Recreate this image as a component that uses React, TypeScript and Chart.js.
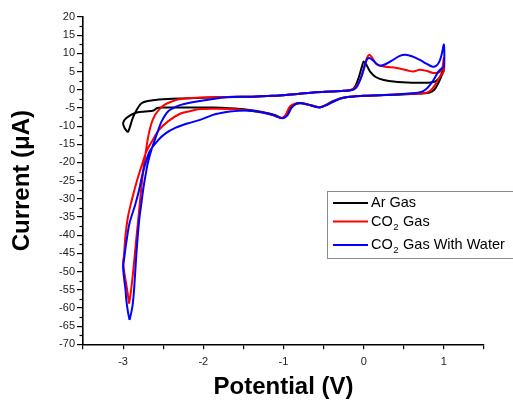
import React, { useEffect, useRef } from 'react';
import { Chart, registerables } from 'chart.js';

Chart.register(...registerables);

// ---- Data (Potential in V, Current in µA) ----
const arV = [-2.94, -2.92, -2.88, -2.83, -2.77, -2.69, -2.55, -2.3, -2.0, -1.7, -1.4, -1.2, -1.0, -0.8, -0.6, -0.4, -0.25, -0.15, -0.1, -0.06, -0.02, 0.0, 0.03, 0.08, 0.15, 0.25, 0.4, 0.55, 0.7, 0.83, 0.9, 0.95, 0.98, 1.0, 1.0, 0.97, 0.93, 0.88, 0.82, 0.75, 0.6, 0.4, 0.2, 0.0, -0.1, -0.2, -0.3, -0.4, -0.47, -0.54, -0.6, -0.69, -0.78, -0.84, -0.92, -0.98, -1.02, -1.1, -1.25, -1.45, -1.67, -1.88, -2.1, -2.35, -2.52, -2.58, -2.62, -2.73, -2.85, -2.96, -3.0, -2.98, -2.94];
const arI = [-11.7, -10.6, -7.8, -5.5, -3.7, -3.1, -2.7, -2.4, -2.2, -2.0, -1.9, -1.7, -1.5, -1.1, -0.7, -0.5, -0.3, 0.0, 1.2, 3.5, 6.5, 7.8, 7.0, 5.0, 3.5, 2.7, 2.2, 2.0, 1.9, 2.0, 2.4, 3.5, 5.0, 7.3, 5.5, 3.8, 1.8, 0.0, -0.8, -1.0, -1.2, -1.4, -1.5, -1.65, -1.8, -2.0, -2.5, -3.3, -4.2, -4.8, -4.6, -4.1, -3.7, -3.9, -5.0, -7.3, -7.8, -7.0, -6.2, -5.5, -5.1, -4.9, -4.9, -4.9, -4.9, -5.1, -5.7, -6.0, -6.4, -7.8, -9.2, -10.6, -11.7];

const co2V = [-2.925, -2.9, -2.87, -2.84, -2.81, -2.78, -2.75, -2.72, -2.69, -2.65, -2.6, -2.54, -2.48, -2.4, -2.3, -2.15, -2.0, -1.7, -1.4, -1.2, -1.0, -0.8, -0.6, -0.4, -0.25, -0.15, -0.1, -0.05, 0.0, 0.04, 0.07, 0.1, 0.16, 0.25, 0.41, 0.55, 0.62, 0.7, 0.78, 0.87, 0.95, 0.98, 1.0, 1.0, 0.97, 0.93, 0.88, 0.83, 0.77, 0.6, 0.4, 0.2, 0.0, -0.1, -0.2, -0.29, -0.38, -0.46, -0.54, -0.62, -0.69, -0.77, -0.84, -0.92, -0.97, -1.02, -1.1, -1.25, -1.45, -1.67, -1.85, -2.04, -2.17, -2.29, -2.44, -2.55, -2.63, -2.71, -2.77, -2.82, -2.87, -2.91, -2.94, -2.97, -2.99, -3.0, -2.98, -2.96, -2.94, -2.925];
const co2I = [-58.8, -55, -49, -42, -35.5, -28.5, -22.5, -17.5, -13.3, -9.5, -6.9, -5.2, -4.1, -3.3, -2.6, -2.3, -2.15, -2.0, -1.9, -1.7, -1.5, -1.1, -0.7, -0.5, -0.3, 0.0, 0.8, 2.5, 5.5, 8.7, 9.6, 9.0, 7.0, 6.4, 6.0, 5.3, 5.0, 5.5, 5.2, 4.6, 4.9, 6.0, 8.7, 5.2, 4.2, 2.8, 1.0, -0.3, -0.9, -1.1, -1.3, -1.5, -1.65, -1.8, -2.0, -2.3, -3.2, -4.1, -4.8, -4.5, -4.1, -3.7, -3.7, -4.6, -6.8, -7.8, -7.2, -6.3, -5.7, -5.3, -5.2, -5.3, -5.9, -6.6, -8.7, -11, -13.8, -17, -21, -24.5, -28.5, -32, -35, -40, -45.9, -47.3, -51, -53.5, -56.5, -58.8];

const waterV = [-2.92, -2.9, -2.88, -2.86, -2.84, -2.82, -2.8, -2.775, -2.75, -2.72, -2.69, -2.64, -2.6, -2.56, -2.52, -2.44, -2.35, -2.27, -2.1, -1.9, -1.7, -1.4, -1.2, -1.0, -0.8, -0.6, -0.4, -0.25, -0.13, -0.08, -0.03, 0.01, 0.04, 0.07, 0.12, 0.17, 0.21, 0.27, 0.35, 0.45, 0.52, 0.6, 0.7, 0.78, 0.85, 0.9, 0.94, 0.97, 1.0, 1.0, 0.97, 0.93, 0.88, 0.83, 0.78, 0.72, 0.6, 0.4, 0.2, 0.0, -0.1, -0.2, -0.29, -0.38, -0.46, -0.55, -0.62, -0.69, -0.77, -0.84, -0.9, -0.95, -1.0, -1.06, -1.15, -1.25, -1.46, -1.67, -1.8, -1.88, -2.04, -2.2, -2.35, -2.47, -2.56, -2.67, -2.75, -2.8, -2.85, -2.92, -2.96, -2.99, -3.0, -2.99, -2.97, -2.96, -2.94, -2.92];
const waterI = [-63.3, -61.5, -59, -54, -47, -41, -36, -31.7, -27.5, -23.5, -20, -16, -13.5, -11, -8.7, -6.0, -4.8, -4.1, -3.3, -2.6, -2.1, -1.9, -1.7, -1.5, -1.1, -0.7, -0.5, -0.3, 0.0, 1.0, 3.5, 6.5, 8.3, 8.7, 8.0, 7.0, 6.6, 7.0, 8.0, 9.3, 9.6, 9.2, 8.2, 7.2, 6.4, 6.5, 7.6, 9.5, 12.4, 6.2, 5.8, 5.0, 3.0, 1.4, 0.2, -0.6, -1.0, -1.3, -1.5, -1.65, -1.8, -2.0, -2.4, -3.3, -4.2, -4.9, -4.6, -4.1, -3.7, -3.8, -5.0, -7.0, -7.8, -7.6, -6.8, -6.3, -5.7, -6.0, -6.5, -6.9, -8.3, -9.3, -10.5, -12, -13.8, -17, -22.5, -27.5, -31.7, -36.7, -42, -47, -48.6, -51.4, -55, -57.8, -61, -63.3];

const seriesLabels = ['Ar Gas', 'CO₂ Gas', 'CO₂ Gas With Water'];
const seriesColors = ['#000000', '#ff0000', '#0000ff'];

const xTitle = 'Potential (V)';
const yTitle = 'Current (μA)';

const FONT = '"Liberation Sans", Arial, sans-serif';

function toPoints(xs: number[], ys: number[]) {
  return xs.map((x, i) => ({ x, y: ys[i] }));
}

const decorPlugin = {
  id: 'decor',
  afterDraw(chart: any) {
    const ctx = chart.ctx as CanvasRenderingContext2D;
    const yScale = chart.scales.y;
    const left = chart.chartArea.left;
    ctx.save();
    // minor ticks on y axis
    ctx.strokeStyle = '#000';
    ctx.lineWidth = 1.2;
    for (let v = yScale.min + 2.5; v < yScale.max; v += 5) {
      const py = Math.round(yScale.getPixelForValue(v)) + 0.5;
      ctx.beginPath();
      ctx.moveTo(left, py);
      ctx.lineTo(left - 3.5, py);
      ctx.stroke();
    }
    // legend box
    const bx = 327.5, by = 191.5, bw = 200, bh = 67;
    ctx.fillStyle = '#ffffff';
    ctx.fillRect(bx, by, bw, bh);
    ctx.strokeStyle = '#8c8c8c';
    ctx.lineWidth = 1;
    ctx.strokeRect(bx, by, bw, bh);
    const rowsY = [203, 221.5, 245];
    ctx.textBaseline = 'middle';
    ctx.textAlign = 'left';
    seriesLabels.forEach((label, i) => {
      const ry = rowsY[i];
      ctx.strokeStyle = seriesColors[i];
      ctx.lineWidth = 2;
      ctx.beginPath();
      ctx.moveTo(333, ry);
      ctx.lineTo(368, ry);
      ctx.stroke();
      ctx.fillStyle = '#000';
      let x = 371;
      const parts = label.split('₂');
      parts.forEach((part, j) => {
        ctx.font = `14.5px ${FONT}`;
        ctx.fillText(part, x, ry);
        x += ctx.measureText(part).width;
        if (j < parts.length - 1) {
          ctx.font = `9.5px ${FONT}`;
          ctx.fillText('2', x + 0.5, ry + 5.5);
          x += ctx.measureText('2').width + 1;
        }
      });
    });
    ctx.restore();
  },
};

export default function App() {
  const canvasRef = useRef<HTMLCanvasElement | null>(null);

  useEffect(() => {
    document.body.style.margin = '0';
    const canvas = canvasRef.current;
    if (!canvas) return;
    const chart = new Chart(canvas, {
      type: 'scatter',
      data: {
        datasets: [
          { label: seriesLabels[0], data: toPoints(arV, arI), borderColor: seriesColors[0], backgroundColor: seriesColors[0], showLine: true, order: 3 },
          { label: seriesLabels[1], data: toPoints(co2V, co2I), borderColor: seriesColors[1], backgroundColor: seriesColors[1], showLine: true, order: 2 },
          { label: seriesLabels[2], data: toPoints(waterV, waterI), borderColor: seriesColors[2], backgroundColor: seriesColors[2], showLine: true, order: 1 },
        ],
      },
      options: {
        responsive: false,
        animation: false,
        layout: { padding: { left: 0, right: 29, top: 17, bottom: 0 } },
        plugins: { legend: { display: false }, tooltip: { enabled: false } },
        elements: {
          point: { radius: 0, hoverRadius: 0 },
          line: { tension: 0.3, borderWidth: 2, fill: false },
        },
        scales: {
          x: {
            type: 'linear',
            position: 'bottom',
            min: -3.5,
            max: 1.5,
            ticks: {
              stepSize: 0.5,
              autoSkip: false,
              maxRotation: 0,
              color: '#222',
              font: { size: 11, family: FONT },
              padding: 6,
              callback: (v: any) => (Number.isInteger(Number(v)) ? String(v) : ''),
            },
            grid: { drawOnChartArea: false, drawTicks: true, tickLength: 5, color: '#000', lineWidth: 1.2 },
            border: { color: '#000', width: 1.6 },
            title: { display: true, text: xTitle, color: '#000', font: { size: 24, weight: 'bold', family: FONT }, padding: { top: 0, bottom: 0 } },
            afterFit: (s: any) => { s.height = 57.7; },
          },
          y: {
            type: 'linear',
            position: 'left',
            min: -70,
            max: 20,
            ticks: {
              stepSize: 5,
              autoSkip: false,
              color: '#222',
              font: { size: 11, family: FONT },
              padding: 2,
            },
            grid: { drawOnChartArea: false, drawTicks: true, tickLength: 6, color: '#000', lineWidth: 1.2 },
            border: { color: '#000', width: 1.6 },
            title: { display: true, text: yTitle, color: '#000', font: { size: 24, weight: 'bold', family: FONT }, padding: { top: 8, bottom: 0 } },
            afterFit: (s: any) => { s.width = 83; },
          },
        },
      },
      plugins: [decorPlugin],
    } as any);
    return () => chart.destroy();
  }, []);

  return (
    <div style={{ width: 513, height: 402, background: '#fff' }}>
      <canvas ref={canvasRef} width={513} height={402} style={{ display: 'block' }} />
    </div>
  );
}
